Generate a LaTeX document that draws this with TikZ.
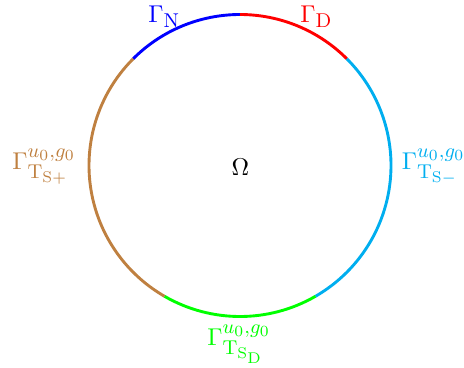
\documentclass[tikz,border=0pt]{standalone}
\DeclareMathSizes{10.95}{10.95}{9}{6.7}
\definecolor{cBlue}{RGB}{0,0,255}
\definecolor{cRed}{RGB}{255,0,0}
\definecolor{cCyan}{RGB}{0,174,239}
\definecolor{cGreen}{RGB}{0,255,0}
\definecolor{cBrown}{RGB}{191,128,64}
\begin{document}
\begin{tikzpicture}[x=0.4505pt,y=0.4505pt,
  font=\fontsize{10.95}{13.6}\selectfont,
  seg/.style={line width=1.3pt},
  lbl/.style={inner sep=0pt,anchor=base west}]
\useasboundingbox (0,0) rectangle (464,367);
\coordinate (O) at (240,201.5);
\draw[seg,cBlue]  (O) ++(90:151)  arc[start angle=90,end angle=135,radius=151];
\draw[seg,cRed]   (O) ++(45:151)  arc[start angle=45,end angle=90,radius=151];
\draw[seg,cCyan]  (O) ++(-60:151) arc[start angle=-60,end angle=45,radius=151];
\draw[seg,cGreen] (O) ++(240:151) arc[start angle=240,end angle=300,radius=151];
\draw[seg,cBrown] (O) ++(135:151) arc[start angle=135,end angle=240,radius=151];
\node[inner sep=0pt,anchor=base] (om) at (240.5,192) {$\Omega$};
\node[lbl,text=cBlue] (gn) at (148,344.5) {$\Gamma_{\mathrm{N}}$};
\node[lbl,text=cRed] (gd) at (300,345) {$\Gamma_{\mathrm{D}}$};
\node[lbl,text=cBrown] (gl) at (12,197.5) {$\Gamma^{u_0,g_0}_{\mathrm{T}_{\mathrm{S}+}}$};
\node[lbl,text=cCyan] (gr) at (401.5,197.5) {$\Gamma^{u_0,g_0}_{\mathrm{T}_{\mathrm{S}-}}$};
\node[lbl,text=cGreen] (gb) at (207,21.5) {$\Gamma^{u_0,g_0}_{\mathrm{T}_{\mathrm{S}_{\mathrm{D}}}}$};
\end{tikzpicture}
\end{document}
